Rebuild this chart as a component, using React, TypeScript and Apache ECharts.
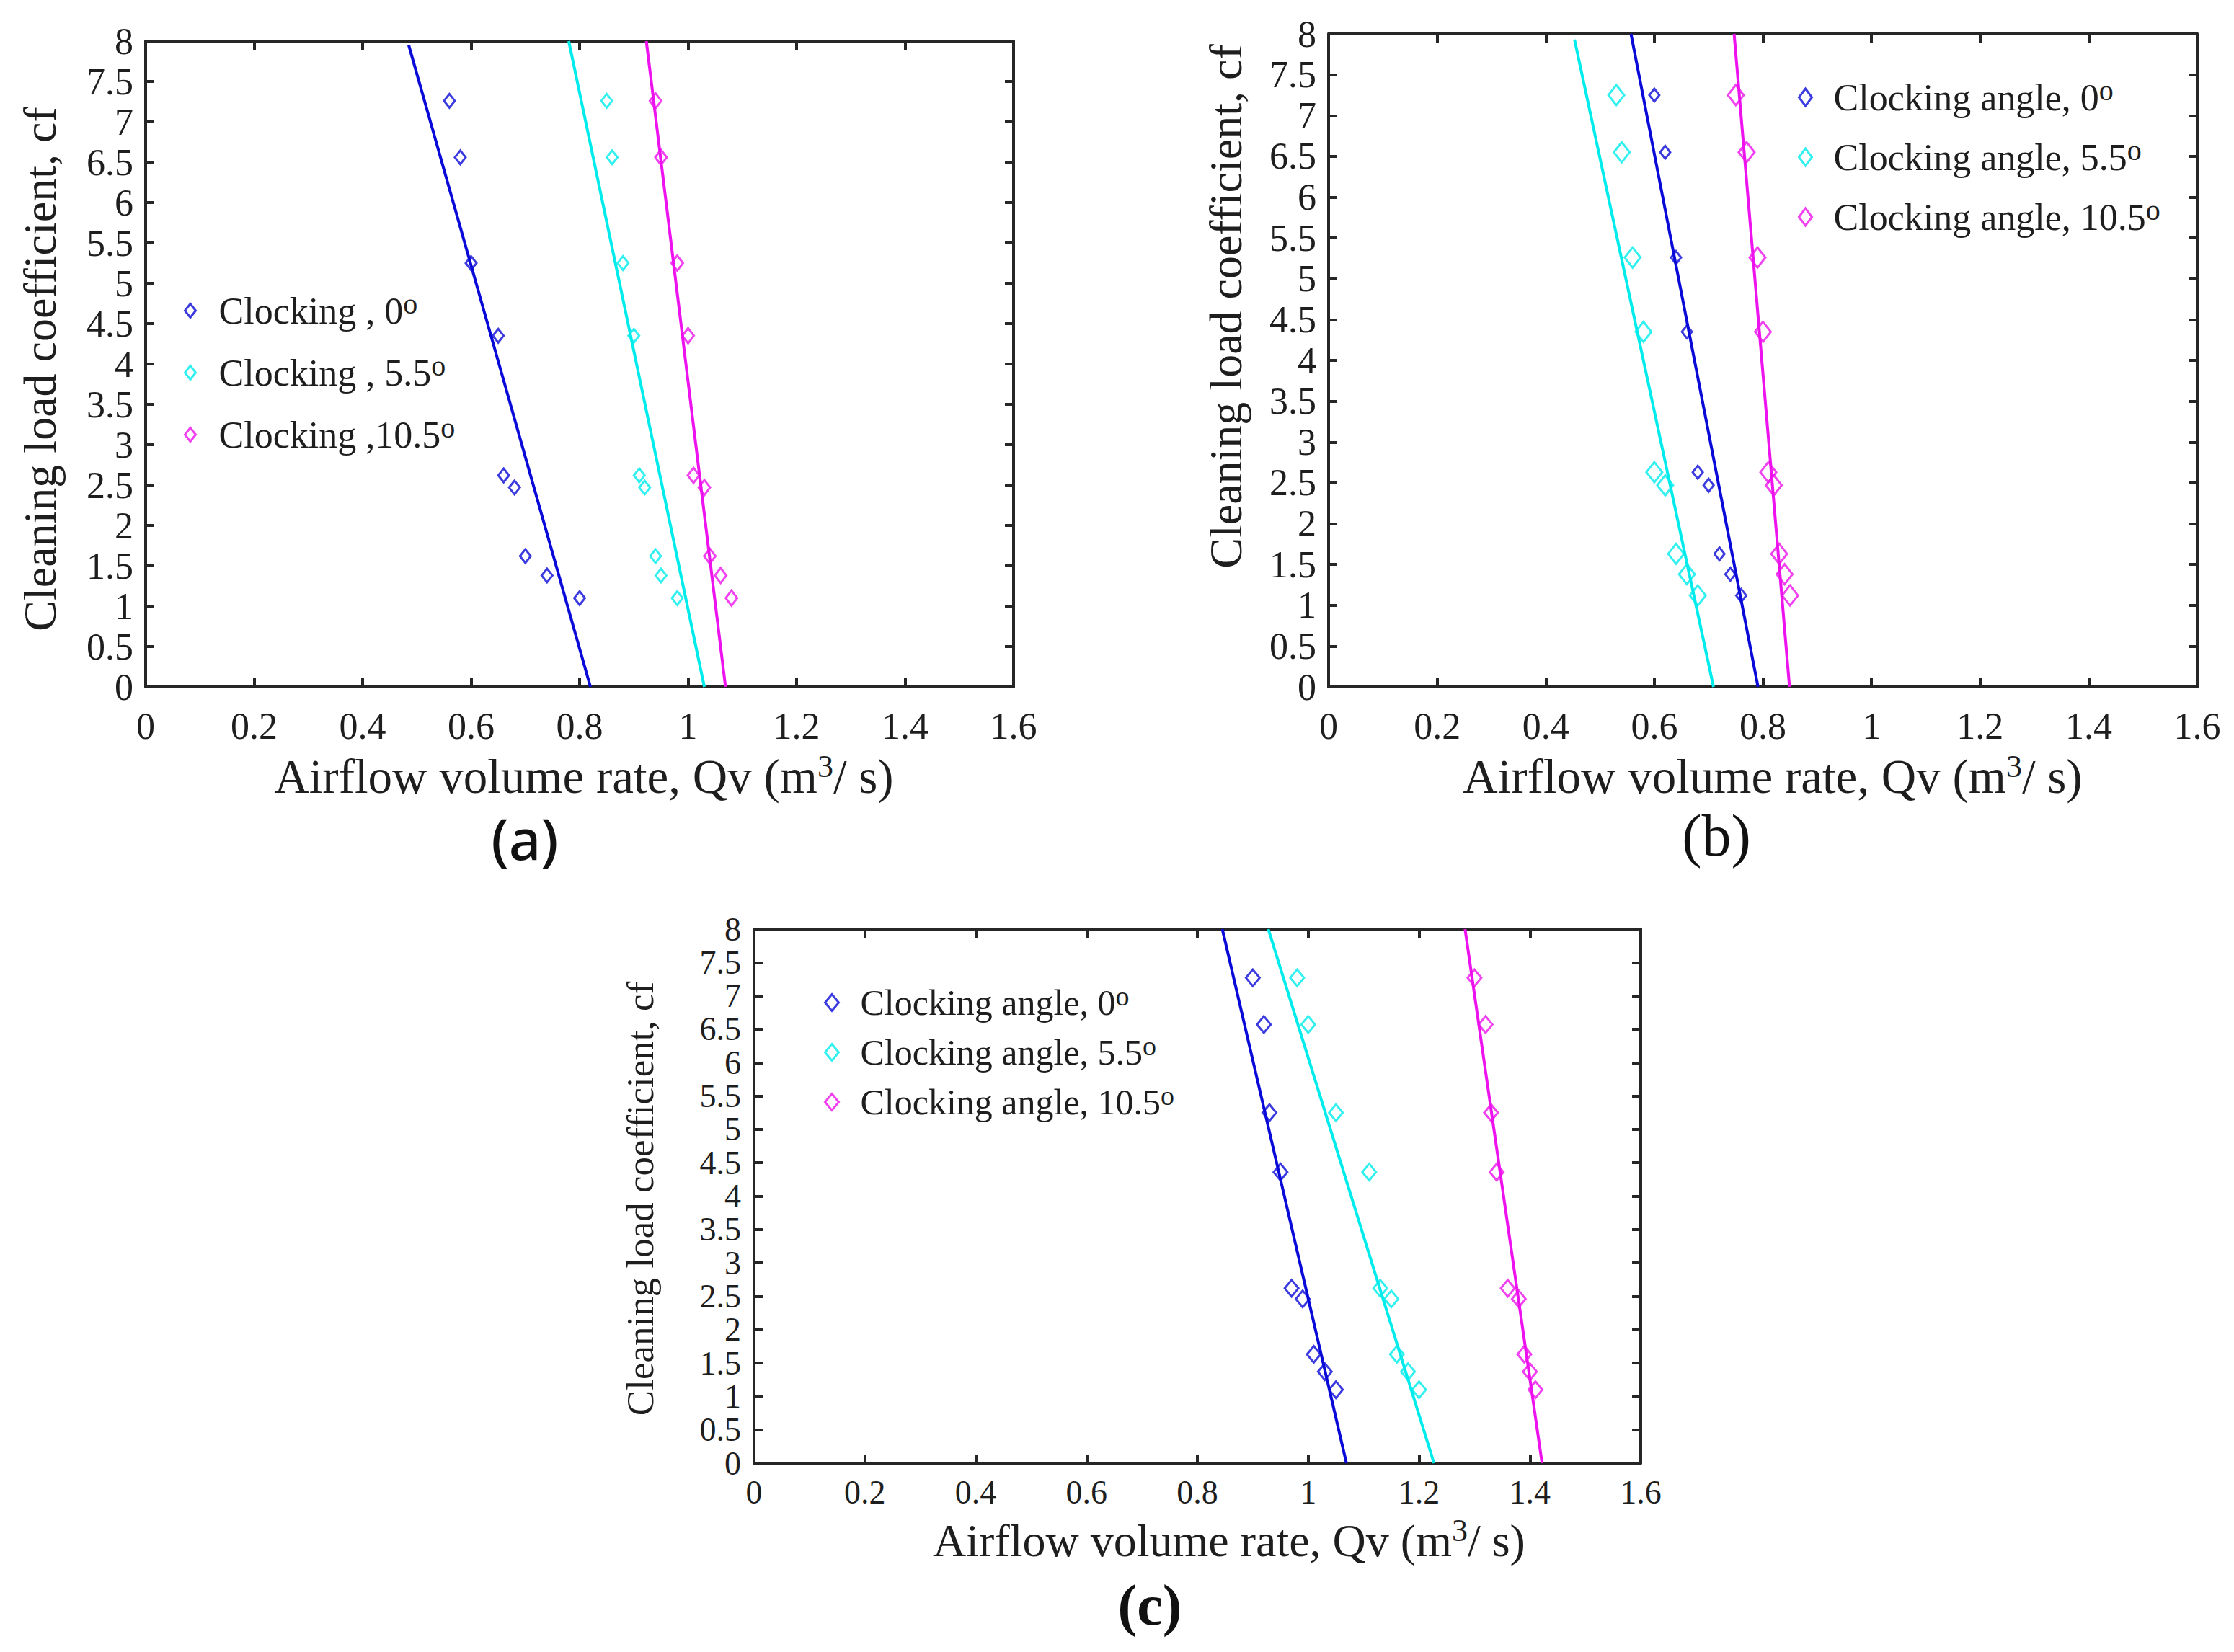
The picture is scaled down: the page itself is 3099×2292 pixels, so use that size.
import React, { useEffect, useRef } from 'react';
import * as echarts from 'echarts';

// ---------- data ----------
// cleaning load coefficient (cf) of the measured points, per panel
const cfA = [7.26, 6.56, 5.25, 4.35, 2.62, 2.47, 1.62, 1.38, 1.10];
const cfB = [7.25, 6.55, 5.26, 4.35, 2.63, 2.47, 1.63, 1.38, 1.12];
const cfC = [7.27, 6.57, 5.25, 4.36, 2.62, 2.46, 1.63, 1.37, 1.10];

// airflow volume rate Qv (m3/s)
const qvA0 = [0.56, 0.58, 0.60, 0.65, 0.66, 0.68, 0.70, 0.74, 0.80];
const qvA55 = [0.85, 0.86, 0.88, 0.90, 0.91, 0.92, 0.94, 0.95, 0.98];
const qvA105 = [0.94, 0.95, 0.98, 1.00, 1.01, 1.03, 1.04, 1.06, 1.08];

const qvB0 = [0.60, 0.62, 0.64, 0.66, 0.68, 0.70, 0.72, 0.74, 0.76];
const qvB55 = [0.53, 0.54, 0.56, 0.58, 0.60, 0.62, 0.64, 0.66, 0.68];
const qvB105 = [0.75, 0.77, 0.79, 0.80, 0.81, 0.82, 0.83, 0.84, 0.85];

const qvC0 = [0.90, 0.92, 0.93, 0.95, 0.97, 0.99, 1.01, 1.03, 1.05];
const qvC55 = [0.98, 1.00, 1.05, 1.11, 1.13, 1.15, 1.16, 1.18, 1.20];
const qvC105 = [1.30, 1.32, 1.33, 1.34, 1.36, 1.38, 1.39, 1.40, 1.41];

// fitted lines: Qv at cf = 0, Qv at the upper end, cf at the upper end (0, 5.5, 10.5 deg)
const fitBottomA = [0.82, 1.03, 1.069];
const fitTopA = [0.485, 0.78, 0.923];
const fitTopCfA = [7.95, 8, 8];
const fitBottomB = [0.791, 0.709, 0.849];
const fitTopB = [0.557, 0.453, 0.747];
const fitTopCfB = [8, 7.93, 8];
const fitBottomC = [1.069, 1.227, 1.422];
const fitTopC = [0.845, 0.928, 1.283];
const fitTopCfC = [8, 8, 8];

const legendLabelsA = ['Clocking , 0', 'Clocking , 5.5', 'Clocking ,10.5'];
const legendLabelsBC = ['Clocking angle, 0', 'Clocking angle, 5.5', 'Clocking angle, 10.5'];

const xTitle = 'Airflow volume rate, Qv (m{sup|3}/ s)';
const yTitle = 'Cleaning load coefficient, cf';
const panelLabels = ['(a)', '(b)', '(c)'];

// ---------- styling ----------
const SERIF = "'Liberation Serif', 'Times New Roman', serif";
const TEXT = '#1e1e1e';
const AXIS = '#262626';
const COLORS = ['#0a0ad8', '#00ecec', '#ee12ee'];

const grids = [
  { left: 202, top: 57, width: 1204, height: 896 },
  { left: 1843, top: 47, width: 1205, height: 906 },
  { left: 1046, top: 1289, width: 1230, height: 741 },
];
const tickFont = [52, 52, 46];
const yLabelMargin = [17, 17, 18];
const xLabelMargin = [28, 28, 17];

// marker sizes [w, h] per panel and series
const markerSizes = [
  [[15, 19], [15, 19], [16, 21]],
  [[14, 18], [22, 28], [22, 28]],
  [[19, 23], [19, 23], [19, 23]],
];

function buildAxes(p: number) {
  const line = { show: true, onZero: false, lineStyle: { color: AXIS, width: 4 } };
  const tick = { show: true, inside: true, length: 12, lineStyle: { color: AXIS, width: 4 } };
  const label = (margin: number) => ({
    show: true,
    margin,
    fontSize: tickFont[p],
    fontFamily: SERIF,
    color: TEXT,
  });
  const xBase = { type: 'value', gridIndex: p, min: 0, max: 1.6, interval: 0.2, splitLine: { show: false }, axisLine: line, axisTick: tick };
  const yBase = { type: 'value', gridIndex: p, min: 0, max: 8, interval: 0.5, splitLine: { show: false }, axisLine: line, axisTick: tick };
  return {
    x: [
      { ...xBase, position: 'bottom', axisLabel: label(xLabelMargin[p]) },
      { ...xBase, position: 'top', axisLabel: { show: false } },
    ],
    y: [
      { ...yBase, position: 'left', axisLabel: label(yLabelMargin[p]) },
      { ...yBase, position: 'right', axisLabel: { show: false } },
    ],
  };
}

export default function App() {
  const ref = useRef<HTMLDivElement>(null);

  useEffect(() => {
    document.body.style.margin = '0';
    if (!ref.current) return;
    const chart = echarts.init(ref.current, undefined, { renderer: 'svg' });

    const panelsQv = [
      [qvA0, qvA55, qvA105],
      [qvB0, qvB55, qvB105],
      [qvC0, qvC55, qvC105],
    ];
    const panelsCf = [cfA, cfB, cfC];
    const fits = [
      [fitBottomA, fitTopA, fitTopCfA],
      [fitBottomB, fitTopB, fitTopCfB],
      [fitBottomC, fitTopC, fitTopCfC],
    ];
    const keys = ['a', 'b', 'c'];
    const labelsFor = (p: number) => (p === 0 ? legendLabelsA : legendLabelsBC);

    const xAxis: any[] = [];
    const yAxis: any[] = [];
    const series: any[] = [];
    const legend: any[] = [];
    const labelOf: Record<string, string> = {};

    const legendLayout = [
      { left: 255, top: 401, itemWidth: 15, itemHeight: 19, itemGap: 26, gap: 27, fontSize: 52, lineHeight: 60, supFS: 40, supLH: 18 },
      { left: 2494, top: 105, itemWidth: 18, itemHeight: 24, itemGap: 23, gap: 25, fontSize: 52, lineHeight: 60, supFS: 40, supLH: 18 },
      { left: 1143, top: 1363, itemWidth: 19, itemHeight: 23, itemGap: 13, gap: 25, fontSize: 50, lineHeight: 56, supFS: 38, supLH: 16 },
    ];

    for (let p = 0; p < 3; p++) {
      const ax = buildAxes(p);
      xAxis.push(...ax.x);
      yAxis.push(...ax.y);
      const names: string[] = [];
      for (let s = 0; s < 3; s++) {
        const name = keys[p] + ': ' + labelsFor(p)[s];
        labelOf[name] = labelsFor(p)[s];
        names.push(name);
        const qv = panelsQv[p][s];
        const cf = panelsCf[p];
        series.push({
          type: 'scatter',
          name,
          xAxisIndex: 2 * p,
          yAxisIndex: 2 * p,
          symbol: 'diamond',
          symbolSize: markerSizes[p][s],
          itemStyle: { color: 'rgba(0,0,0,0)', borderColor: COLORS[s], borderWidth: 3 },
          data: qv.map((v, i) => [v, cf[i]]),
          z: 3,
        });
        const [fb, ft, fc] = fits[p];
        series.push({
          type: 'line',
          name: keys[p] + ' fit ' + s,
          xAxisIndex: 2 * p,
          yAxisIndex: 2 * p,
          symbol: 'none',
          lineStyle: { color: COLORS[s], width: 4 },
          data: [
            [fb[s], 0],
            [ft[s], fc[s]],
          ],
          z: 2,
        });
      }
      const L = legendLayout[p];
      legend.push({
        orient: 'vertical',
        left: L.left,
        top: L.top,
        padding: 0,
        itemWidth: L.itemWidth,
        itemHeight: L.itemHeight,
        itemGap: L.itemGap,
        selectedMode: false,
        data: names,
        itemStyle: { borderWidth: 3 },
        formatter: (n: string) => '{gap| }' + labelOf[n] + '{sup|o}',
        textStyle: {
          fontSize: L.fontSize,
          fontFamily: SERIF,
          color: TEXT,
          lineHeight: L.lineHeight,
          rich: {
            gap: { width: L.gap },
            sup: { fontSize: L.supFS, lineHeight: L.supLH, verticalAlign: 'top' },
          },
        },
      });
    }

    const xTitlePos = [
      { x: 810, y: 1077, fs: 67 },
      { x: 2459, y: 1077, fs: 67 },
      { x: 1705, y: 2137, fs: 64 },
    ];
    const yTitlePos = [
      { x: 55, y: 512, fs: 64 },
      { x: 1700, y: 425, fs: 64 },
      { x: 888, y: 1663, fs: 53 },
    ];
    const panelLabelStyle = [
      { x: 728, y: 1163, fs: 78, family: "'Noto Sans', 'Open Sans', sans-serif", weight: 500 },
      { x: 2381, y: 1159, fs: 82, family: SERIF, weight: 'normal' },
      { x: 1595, y: 2227, fs: 80, family: SERIF, weight: 'bold' },
    ];

    const graphic: any[] = [];
    for (let p = 0; p < 3; p++) {
      const xt = xTitlePos[p];
      graphic.push({
        type: 'text',
        x: xt.x,
        y: xt.y,
        style: {
          text: xTitle,
          fontSize: xt.fs,
          fontFamily: SERIF,
          fill: TEXT,
          align: 'center',
          verticalAlign: 'middle',
          lineHeight: 72,
          rich: { sup: { fontSize: 44, lineHeight: 20, verticalAlign: 'top', fill: TEXT, fontFamily: SERIF } },
        },
      });
      const yt = yTitlePos[p];
      graphic.push({
        type: 'text',
        x: yt.x,
        y: yt.y,
        rotation: Math.PI / 2,
        style: {
          text: yTitle,
          fontSize: yt.fs,
          fontFamily: SERIF,
          fill: TEXT,
          align: 'center',
          verticalAlign: 'middle',
        },
      });
      const pl = panelLabelStyle[p];
      graphic.push({
        type: 'text',
        x: pl.x,
        y: pl.y,
        style: {
          text: panelLabels[p],
          fontSize: pl.fs,
          fontFamily: pl.family,
          fontWeight: pl.weight,
          fill: '#111',
          align: 'center',
          verticalAlign: 'middle',
        },
      });
    }

    chart.setOption({
      animation: false,
      backgroundColor: '#ffffff',
      grid: grids.map((g) => ({ ...g, show: false, containLabel: false })),
      xAxis,
      yAxis,
      legend,
      series,
      graphic,
    });

    return () => chart.dispose();
  }, []);

  return <div ref={ref} style={{ position: 'absolute', left: 0, top: 0, width: 3099, height: 2292 }} />;
}
